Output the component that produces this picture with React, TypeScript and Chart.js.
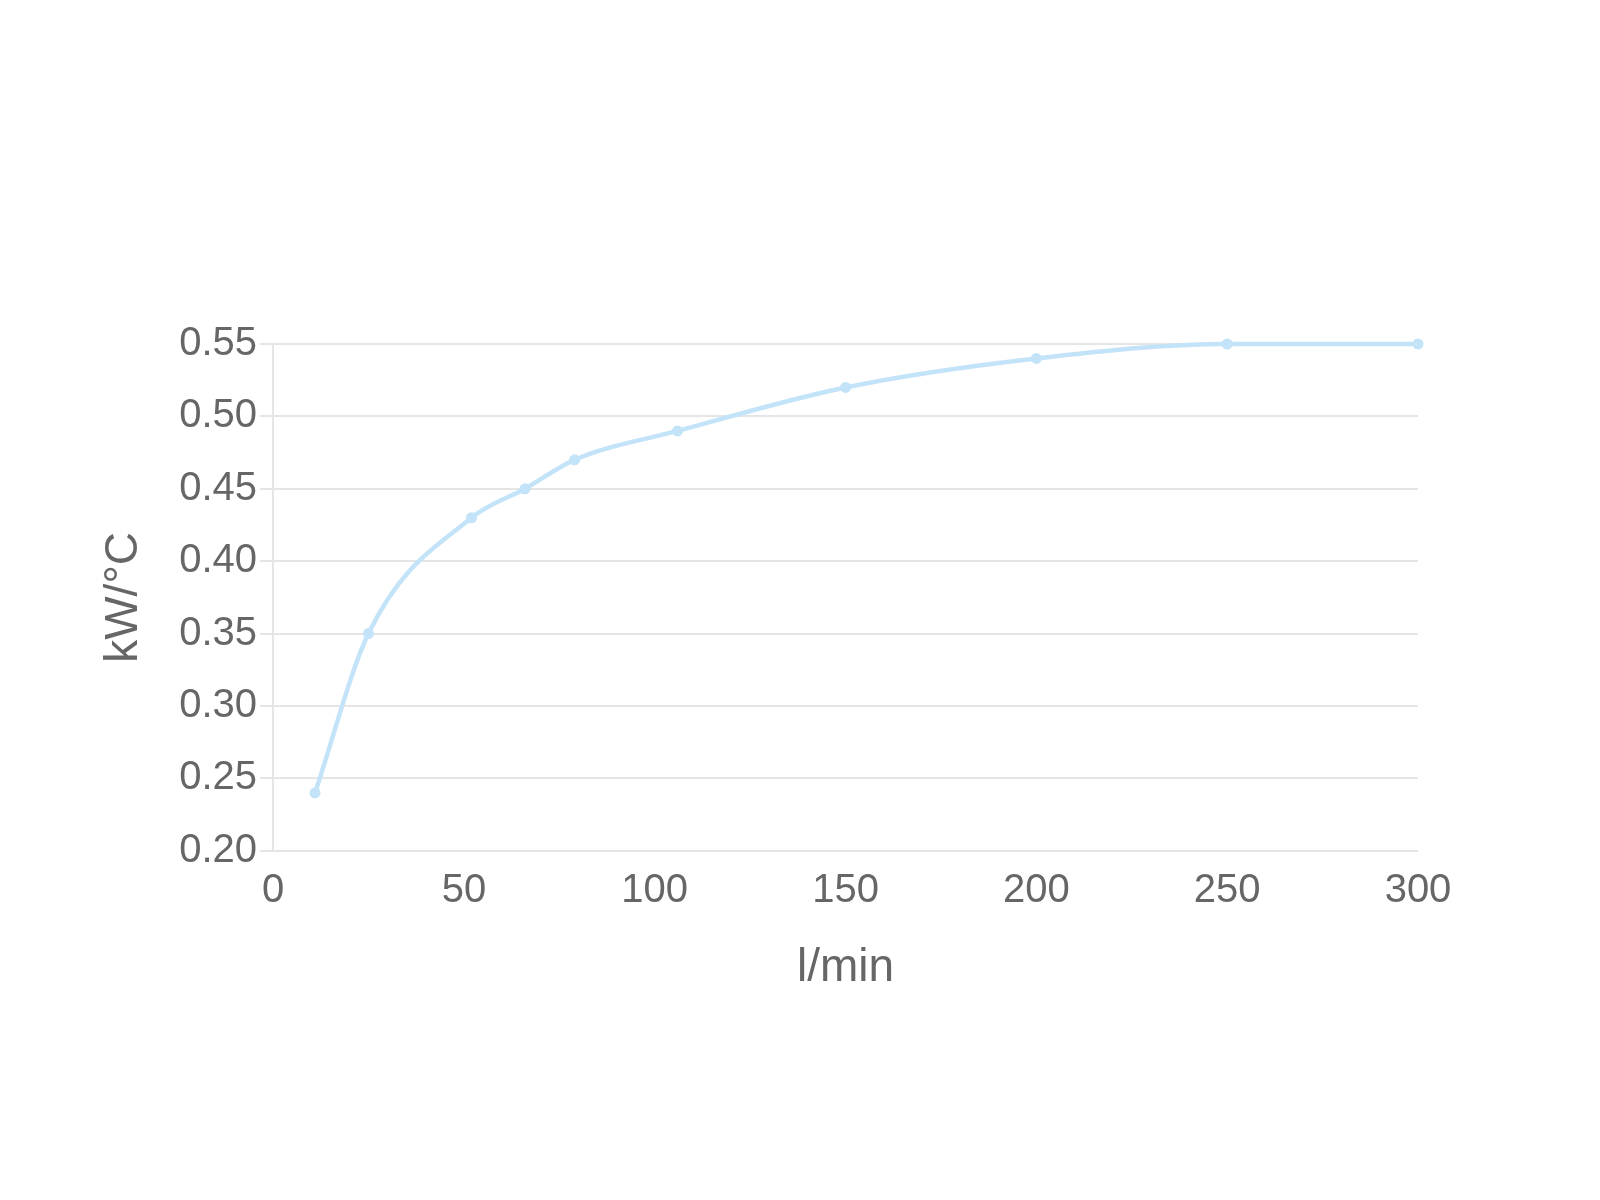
import React, { useEffect, useRef } from "react";
import { Chart, registerables } from "chart.js";

Chart.register(...registerables);

const flowRates = [11, 25, 52, 66, 79, 106, 150, 200, 250, 300];
const heatTransfer = [0.24, 0.35, 0.43, 0.45, 0.47, 0.49, 0.52, 0.54, 0.55, 0.55];
const xTitle = "l/min";
const yTitle = "kW/°C";

const FONT = "'Liberation Sans', Arial, Helvetica, sans-serif";
const LINE = "rgb(195,227,249)";

export default function App() {
  const ref = useRef<HTMLCanvasElement | null>(null);
  useEffect(() => {
    if (!ref.current) return;
    const chart = new Chart(ref.current, {
      type: "line",
      data: {
        datasets: [
          {
            data: flowRates.map((x, i) => ({ x, y: heatTransfer[i] })),
            borderColor: LINE,
            backgroundColor: LINE,
            borderWidth: 4.5,
            pointRadius: 5.5,
            pointBorderWidth: 0,
            cubicInterpolationMode: "monotone",
            fill: false,
            clip: 12,
          },
        ],
      },
      options: {
        animation: false,
        responsive: false,
        devicePixelRatio: 1,
        layout: { padding: { left: 93, right: 182, top: 344, bottom: 200 } },
        plugins: { legend: { display: false }, tooltip: { enabled: false } },
        scales: {
          x: {
            type: "linear",
            min: 0,
            max: 300,
            ticks: { stepSize: 50, color: "#666", font: { family: FONT, size: 40 }, padding: 8 },
            grid: { display: false },
            border: { display: false },
            title: { display: true, text: xTitle, color: "#666", font: { family: FONT, size: 46 }, padding: { top: 18, bottom: 4 } },
          },
          y: {
            min: 0.2,
            max: 0.55,
            ticks: {
              stepSize: 0.05,
              color: "#666",
              font: { family: FONT, size: 40 },
              padding: 3,
              callback: (v: any) => Number(v).toFixed(2),
            },
            grid: { color: "rgba(0,0,0,0.1)", lineWidth: 2, tickLength: 13 },
            border: { display: true, color: "rgba(0,0,0,0.1)", width: 2 },
            title: { display: true, text: yTitle, color: "#666", font: { family: FONT, size: 46 }, padding: { top: 4, bottom: 24 } },
          },
        },
      },
    });
    return () => chart.destroy();
  }, []);
  return (
    <div style={{ position: "absolute", left: 0, top: 0, width: 1600, height: 1200 }}>
      <canvas ref={ref} width={1600} height={1200} style={{ width: 1600, height: 1200 }} />
    </div>
  );
}
